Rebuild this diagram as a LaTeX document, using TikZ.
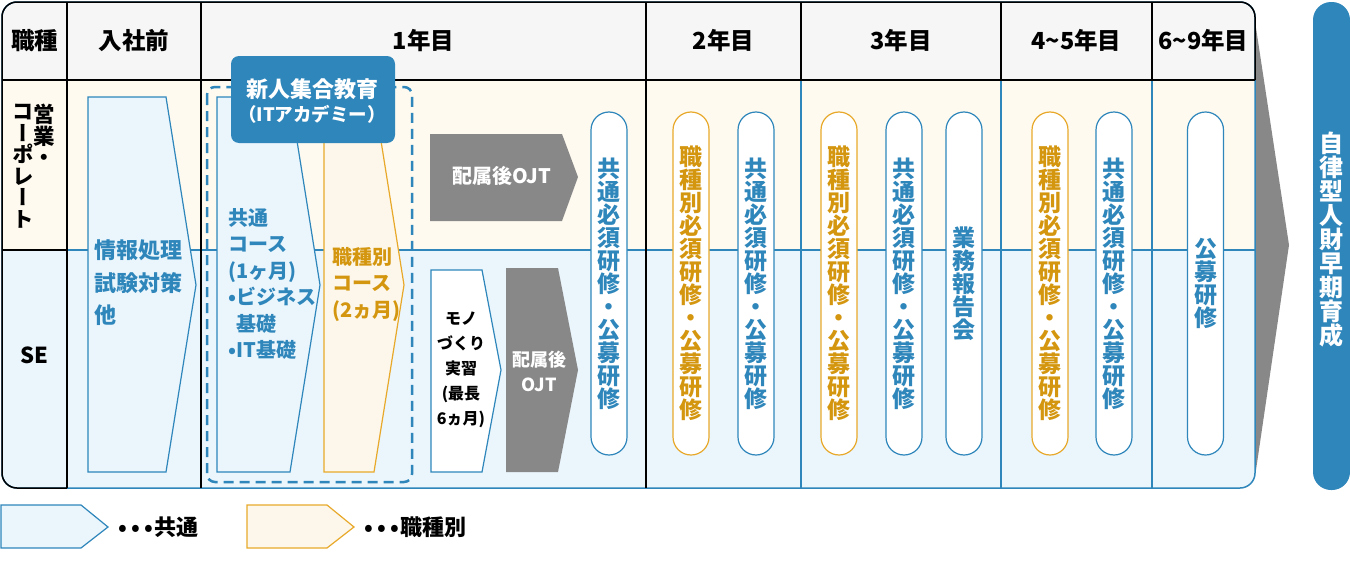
\documentclass[tikz,border=0pt]{standalone}
\usepackage{fontspec}
\setmainfont{Noto Sans CJK JP}
\newfontfamily\vertjp{Noto Sans CJK JP}[RawFeature=+vert]
\usetikzlibrary{positioning}

\definecolor{lineblue}{HTML}{2E86BB}
\definecolor{bgblue}{HTML}{EAF5FC}
\definecolor{bgcream}{HTML}{FEFAF0}
\definecolor{boxcream}{HTML}{FCF7EA}
\definecolor{lineorange}{HTML}{E8A92B}
\definecolor{txtorange}{HTML}{D4960F}
\definecolor{ojtgrey}{HTML}{888888}
\definecolor{headgrey}{HTML}{F6F6F6}

\newcommand{\commontxt}{共\\通\\必\\須\\研\\修\\・\\公\\募\\研\\修}
\newcommand{\jobtxt}{職\\種\\別\\必\\須\\研\\修\\・\\公\\募\\研\\修}
\newcommand{\legdots}{•\kern4.5pt•\kern4.5pt•\kern1pt}

\tikzset{
  headtext/.style={font=\fontsize{23.5}{26}\selectfont\bfseries, inner sep=0pt},
  rowtext/.style={font=\vertjp\fontsize{21.5}{21.5}\selectfont\bfseries, inner sep=0pt, align=center},
  bodytext/.style={font=\fontsize{20}{26.5}\selectfont\bfseries, inner sep=0pt, align=left},
  smalltext/.style={font=\fontsize{16}{25}\selectfont\bfseries, inner sep=0pt, align=center},
  commonbox/.style={draw=lineblue, fill=bgblue, line width=1.2pt},
  jobbox/.style={draw=lineorange, fill=boxcream, line width=1.2pt},
  ojtbox/.style={fill=ojtgrey},
  pillbase/.style={fill=white, line width=1.2pt, rounded corners=18, minimum width=36,
    minimum height=343, inner sep=0pt, align=center, font=\fontsize{23}{23}\selectfont\bfseries},
  bluepill/.style={pillbase, draw=lineblue, text=lineblue},
  orangepill/.style={pillbase, draw=lineorange, text=txtorange},
}

\begin{document}
\begin{tikzpicture}[x=1pt, y=-1pt] % one unit = one pixel, y runs down
  \useasboundingbox (0,0) rectangle (1350,570);

  % Grey arrow behind the table
  \fill[ojtgrey] (1240,28) -- (1256,28) -- (1289,245) -- (1256,470) -- (1240,470) -- cycle;

  % Table fills
  \begin{scope}
    \clip[rounded corners=15] (2,2) rectangle (1255,488);
    \fill[headgrey] (0,0) rectangle (1260,80);
    \fill[bgcream] (0,80) rectangle (1260,250);
    \fill[bgblue] (0,250) rectangle (1260,490);
  \end{scope}

  % Grid
  \draw[lineblue, line width=1.5, rounded corners=15] (2,2) rectangle (1255,488);
  \foreach \x in {801,1001,1152}
    \draw[lineblue, line width=1.5] (\x,80) -- (\x,488);
  \draw[lineblue, line width=1.5] (67,250) -- (1255,250);
  \begin{scope}
    \clip (-5,-5) rectangle (1260,80) (-5,80) rectangle (67,495);
    \draw[line width=1.5, rounded corners=15] (2,2) rectangle (1255,488);
  \end{scope}
  \foreach \x in {801,1001,1152}
    \draw[line width=1.5] (\x,2) -- (\x,80);
  \foreach \x in {67,201,646}
    \draw[line width=1.5] (\x,2) -- (\x,488);
  \draw[line width=1.5] (2,80) -- (1255,80);
  \draw[line width=1.5] (2,250) -- (67,250);

  % Header
  \foreach \x/\t [count=\i] in {34.5/職種, 134/入社前, 423.5/1年目, 723.5/2年目,
      901/3年目, 1076.5/4\textasciitilde5年目, 1203.5/6\textasciitilde9年目}
    \node[headtext] (head\i) at (\x,41) {\t};

  % Job types
  \node[rowtext, anchor=north] (sales) at (44,104) {営\\業\\・};
  \node[rowtext, anchor=north] (corp) at (23,104) {コ\\ー\\ポ\\レ\\ー\\ト};
  \node[headtext, font=\fontsize{22}{24}\selectfont\bfseries] (se) at (34.5,355) {SE};

  % Before joining
  \draw[commonbox] (88,97) -- (166,97) -- (196,285) -- (166,472) -- (88,472) -- cycle;
  \node[bodytext, font=\fontsize{22}{32.5}\selectfont\bfseries, text=lineblue, anchor=west]
    (prep) at (94,283) {情報処理\\試験対策\\他};

  % 1st year: IT academy
  \draw[commonbox] (217,97) -- (290,97) -- (320,285) -- (290,472) -- (217,472) -- cycle;
  \draw[jobbox] (324,97) -- (374,97) -- (404,285) -- (374,472) -- (324,472) -- cycle;
  \node[bodytext, text=lineblue, anchor=west] (course1) at (228,284)
    {共通\\コース\\(1ヶ月)\\•ビジネス\\\phantom{•}基礎\\•IT基礎};
  \node[bodytext, text=txtorange, anchor=west] (course2) at (332,284)
    {職種別\\コース\\(2ヵ月)};
  \draw[lineblue, line width=2.5, dash pattern=on 10 off 6, rounded corners=8]
    (207,87) rectangle (412,482);
  \node[fill=lineblue, rounded corners=8, minimum width=164, minimum height=87,
    inner sep=0pt] (academy) at (313,99.5) {};
  \node[headtext, font=\fontsize{22}{24}\selectfont\bfseries, text=white] (academy1) at (312,89) {新人集合教育};
  \node[headtext, font=\fontsize{18.5}{20}\selectfont\bfseries, text=white] (academy2) at (312,114) {（ITアカデミー）};

  % 1st year: after assignment
  \fill[ojtbox] (430,134) -- (562,134) -- (578,177) -- (562,221) -- (430,221) -- cycle;
  \node[headtext, font=\fontsize{20}{24}\selectfont\bfseries, text=white] (ojt1) at (502,176) {配属後OJT};
  \draw[lineblue, fill=white, line width=1.2pt]
    (431,270) -- (482,270) -- (501,370) -- (482,472) -- (431,472) -- cycle;
  \node[smalltext] (mono) at (461,370) {モノ\\づくり\\実習\\(最長\\6ヵ月)};
  \fill[ojtbox] (506,268) -- (558,268) -- (578,370) -- (558,472) -- (506,472) -- cycle;
  \node[smalltext, font=\fontsize{18}{25}\selectfont\bfseries, text=white] (ojt2) at (539,371) {配属後\\OJT};

  % Trainings
  \foreach \x [count=\i] in {609,756,904,1114}
    \node[bluepill] (common\i) at (\x,283.5) {\commontxt};
  \foreach \x [count=\i] in {691,839,1050}
    \node[orangepill] (job\i) at (\x,283.5) {\jobtxt};
  \node[bluepill] (report) at (964,283.5) {業\\務\\報\\告\\会};
  \node[bluepill] (open) at (1205.5,283.5) {公\\募\\研\\修};

  % Goal
  \node[fill=lineblue, rounded corners=18, minimum width=37, minimum height=488,
    inner sep=0pt] (goal) at (1331.5,246) {};
  \node[pillbase, fill=none, font=\fontsize{24}{24}\selectfont\bfseries, text=white]
    (goaltext) at (1331.5,240) {自\\律\\型\\人\\財\\早\\期\\育\\成};

  % Legend
  \draw[commonbox] (1,505) -- (81,505) -- (108,527) -- (81,548) -- (1,548) -- cycle;
  \node[headtext, font=\fontsize{22}{24}\selectfont\bfseries, anchor=west] (legcommon) at (118,527) {\legdots 共通};
  \draw[jobbox] (247,505) -- (327,505) -- (354,527) -- (327,548) -- (247,548) -- cycle;
  \node[headtext, font=\fontsize{22}{24}\selectfont\bfseries, anchor=west] (legjob) at (364,527) {\legdots 職種別};
\end{tikzpicture}
\end{document}
